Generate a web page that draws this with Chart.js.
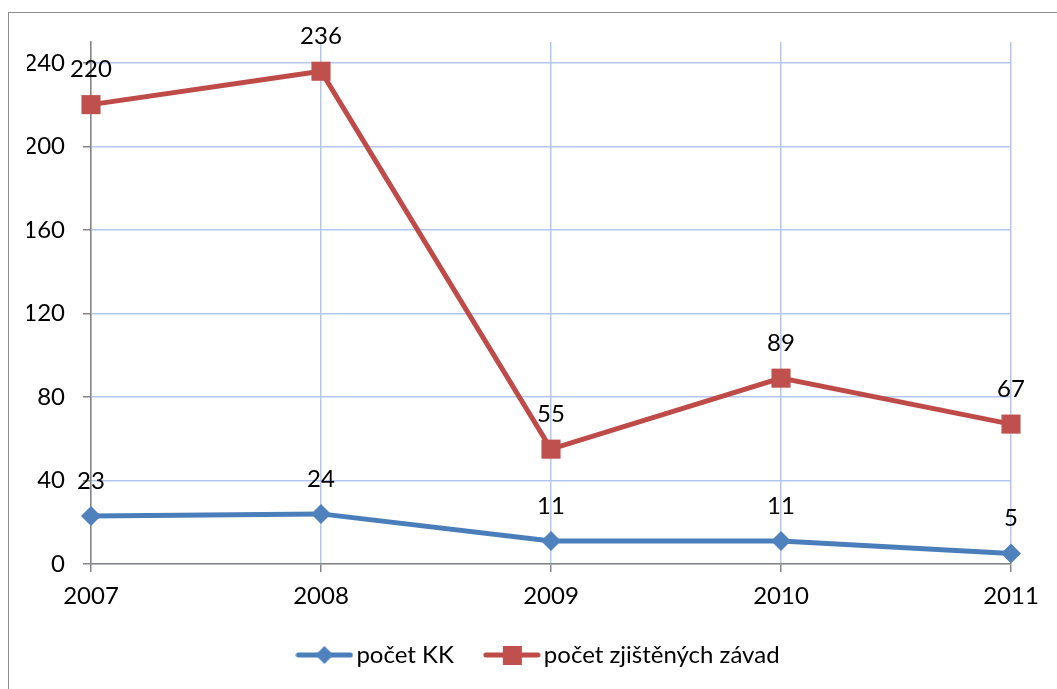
<!DOCTYPE html>
<html>
<head>
<meta charset="utf-8">
<script src="https://cdn.jsdelivr.net/npm/chart.js@4.4.0/dist/chart.umd.min.js"></script>
<style>
  html, body { margin: 0; padding: 0; background: #fff; overflow: hidden; }
  #frame { position: absolute; left: 8px; top: 12px; width: 1200px; height: 900px; border-left: 1.5px solid #8c8c8c; border-top: 1.5px solid #8c8c8c; }
  #wrap { position: absolute; left: 0; top: 0; width: 1057px; height: 689px; }
</style>
</head>
<body>
<div id="frame"></div>
<div id="wrap"><canvas id="c" width="1057" height="689"></canvas></div>
<script>
const years = ['2007', '2008', '2009', '2010', '2011'];
const pocetKK = [23, 24, 11, 11, 5];
const pocetZavad = [220, 236, 55, 89, 67];
const seriesNames = ['počet KK', 'počet zjištěných závad'];
const yTicks = [0, 40, 80, 120, 160, 200, 240];

const FONT = 'Lato';
const FS = 24;
const LFS = 24;
const blueLine = '#4a7ebb', blueFill = '#4f81bd';
const redLine = '#be4b48', redFill = '#c0504d';
const gridBlue = '#b3c7ee';
const axisGray = '#868686';

function legendIcon(color, fill, shape) {
  const cv = document.createElement('canvas');
  cv.width = 58; cv.height = 24;
  const g = cv.getContext('2d');
  g.strokeStyle = color; g.lineWidth = 5; g.lineCap = 'round';
  g.beginPath(); g.moveTo(3, 12); g.lineTo(55, 12); g.stroke();
  g.fillStyle = fill;
  if (shape === 'diamond') {
    g.beginPath(); g.moveTo(29, 3); g.lineTo(38, 12); g.lineTo(29, 21); g.lineTo(20, 12); g.closePath(); g.fill();
  } else {
    g.fillRect(20, 3, 19, 19);
  }
  return cv;
}
const icons = [legendIcon(blueLine, blueFill, 'diamond'), legendIcon(redLine, redFill, 'square')];

const labelPlugin = {
  id: 'valueLabels',
  beforeLayout(chart) {
    const lg = chart.legend;
    if (lg && !lg._patched) {
      const f = lg.fit;
      lg.fit = function () { f.call(this); this.height = 74; };
      lg._patched = true;
    }
  },
  afterDatasetsDraw(chart) {
    const ctx = chart.ctx;
    ctx.save();
    ctx.font = FS + 'px ' + FONT;
    ctx.fillStyle = '#000';
    ctx.textAlign = 'center';
    ctx.textBaseline = 'middle';
    chart.data.datasets.forEach((ds, i) => {
      chart.getDatasetMeta(i).data.forEach((pt, j) => {
        ctx.fillText(String(ds.data[j]), pt.x, pt.y - 35);
      });
    });
    ctx.restore();
  }
};

new Chart(document.getElementById('c'), {
  type: 'line',
  data: {
    labels: years,
    datasets: [
      {
        label: seriesNames[0], data: pocetKK,
        borderColor: blueLine, borderWidth: 5, backgroundColor: blueFill,
        pointStyle: 'rectRot', pointRadius: 10, pointHoverRadius: 10,
        pointBackgroundColor: blueFill, pointBorderColor: blueFill, pointBorderWidth: 0,
        tension: 0, clip: false
      },
      {
        label: seriesNames[1], data: pocetZavad,
        borderColor: redLine, borderWidth: 5, backgroundColor: redFill,
        pointStyle: 'rect', pointRadius: 13.5, pointHoverRadius: 13.5,
        pointBackgroundColor: redFill, pointBorderColor: redFill, pointBorderWidth: 0,
        tension: 0, clip: false
      }
    ]
  },
  options: {
    responsive: false,
    animation: false,
    devicePixelRatio: 1,
    layout: { padding: { left: 27, right: 0, top: 42, bottom: 10 } },
    plugins: {
      tooltip: { enabled: false },
      legend: {
        position: 'bottom',
        labels: {
          font: { family: FONT, size: LFS },
          color: '#000',
          usePointStyle: true,
          pointStyleWidth: 40,
          padding: 38,
          generateLabels(chart) {
            return chart.data.datasets.map((ds, i) => ({
              text: ds.label, pointStyle: icons[i], datasetIndex: i,
              fillStyle: 'transparent', strokeStyle: 'transparent', lineWidth: 0, fontColor: '#000'
            }));
          }
        }
      }
    },
    scales: {
      x: {
        offset: false,
        grid: { color: gridBlue, lineWidth: 1.5, tickLength: 8, tickColor: axisGray, tickWidth: 1.5 },
        border: { color: axisGray, width: 1.5 },
        ticks: { font: { family: FONT, size: FS }, color: '#000', padding: 10, maxRotation: 0 },
        afterFit(s) { s.height = 41; s._computeLabelArea = () => null; }
      },
      y: {
        min: 0, max: 250,
        grid: { color: gridBlue, lineWidth: 1.5, tickLength: 8, tickColor: axisGray, tickWidth: 1.5 },
        border: { color: axisGray, width: 1.5 },
        ticks: { stepSize: 40, font: { family: FONT, size: FS }, color: '#000', padding: 18 },
        afterBuildTicks(s) { s.ticks = yTicks.map(v => ({ value: v })); },
        afterFit(s) { s.width = 64; }
      },
      yRight: {
        position: 'right', min: 0, max: 250,
        grid: { display: false, drawTicks: false },
        border: { display: false },
        ticks: { display: false },
        afterFit(s) { s.width = 46; }
      }
    }
  },
  plugins: [labelPlugin]
});
</script>
</body>
</html>
